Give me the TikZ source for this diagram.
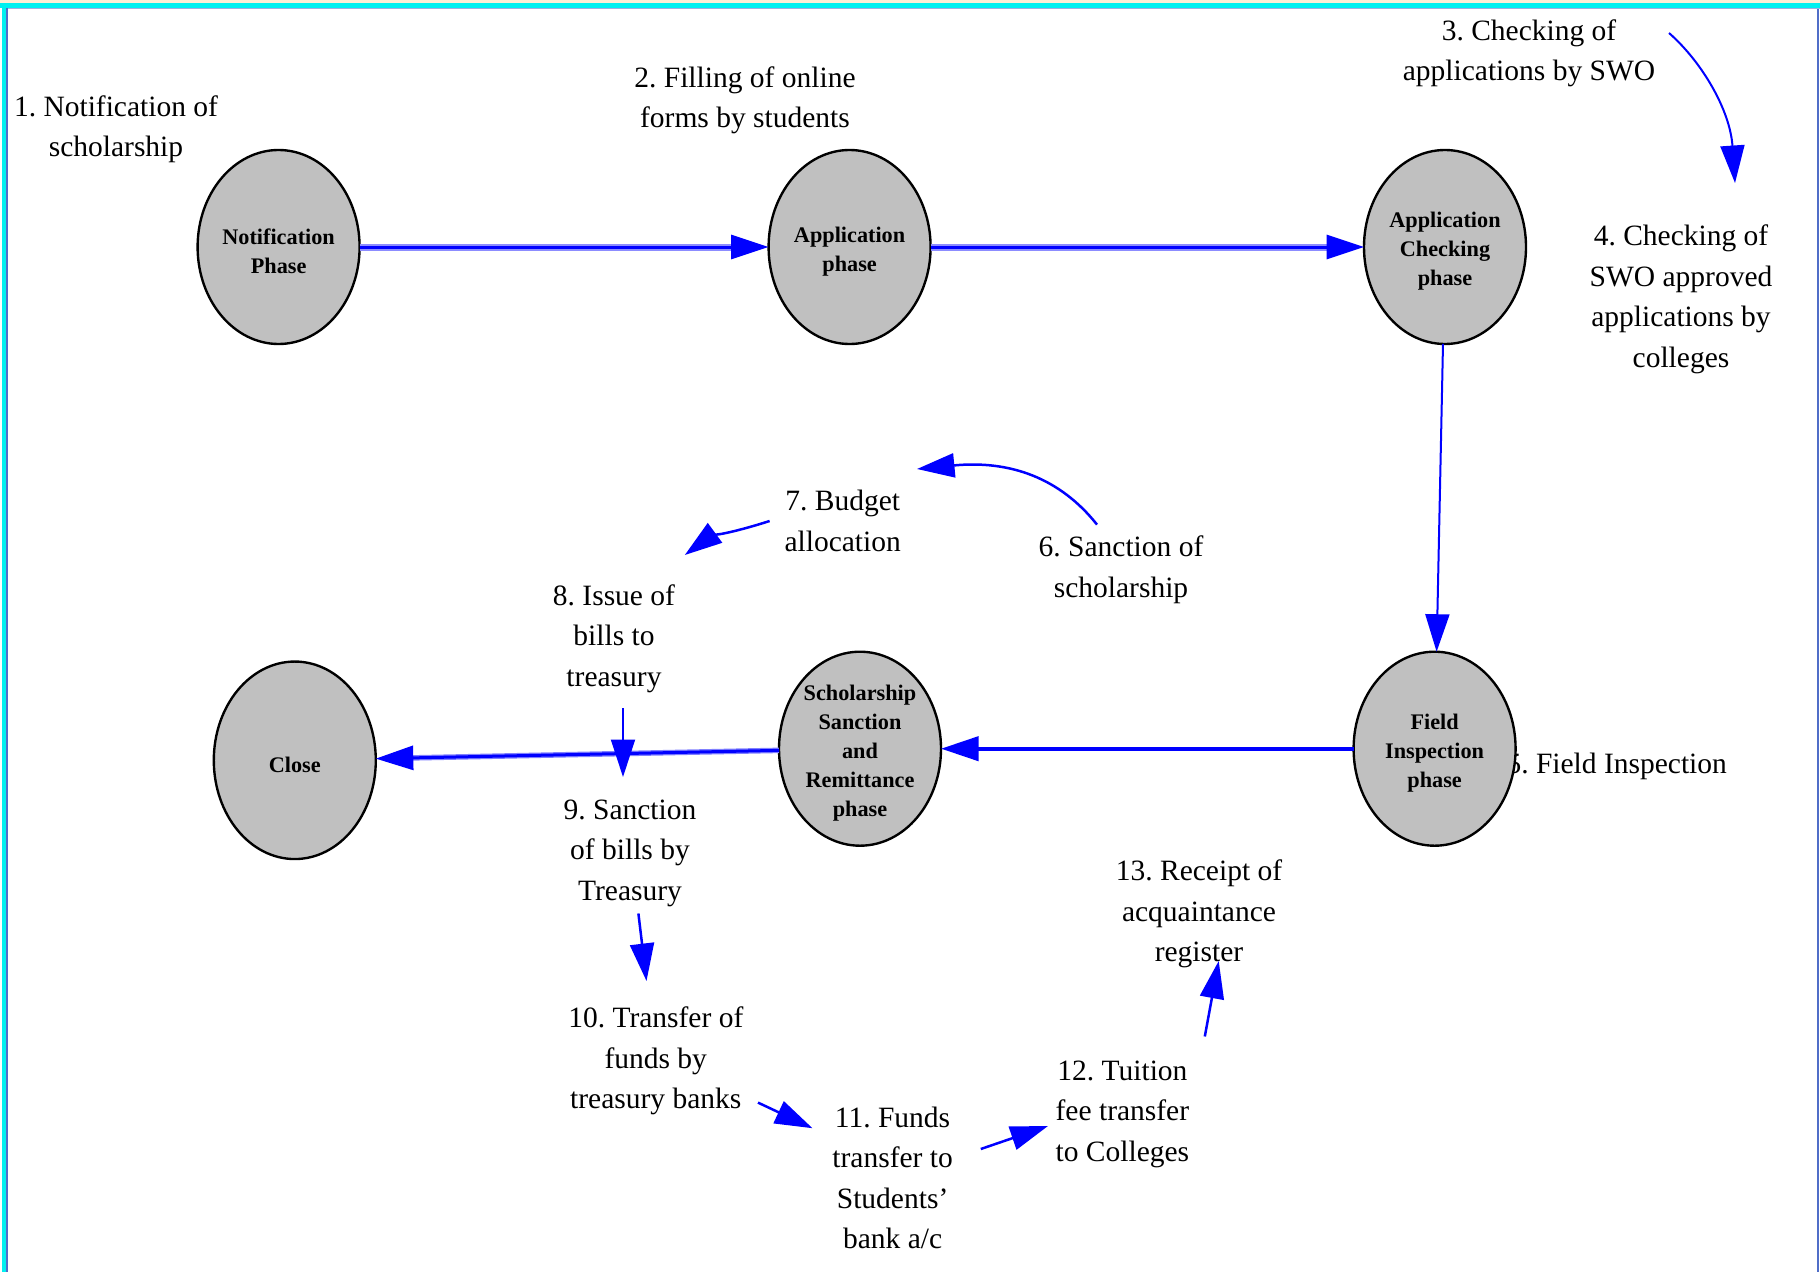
\documentclass[tikz,border=0pt]{standalone}
\usepackage{fontspec}
\setmainfont{Liberation Serif}
\usetikzlibrary{arrows.meta,shapes.geometric}
\frenchspacing

\definecolor{framecyan}{RGB}{0,240,240}
\definecolor{framebeige}{RGB}{252,238,214}
\definecolor{frameline}{RGB}{80,110,200}
\definecolor{phasegray}{RGB}{192,192,192}
\definecolor{flowblue}{RGB}{0,0,255}

\tikzset{
  phase/.style={ellipse, draw=black, line width=0.95pt, fill=phasegray,
    minimum width=64.8pt, minimum height=77.6pt, inner sep=0pt, outer sep=0pt},
  phasetext/.style={align=center, inner sep=0pt, yshift=-1.8pt,
    font=\fontsize{8.9}{11.6}\selectfont\bfseries},
  steptext/.style={align=center, inner sep=0pt,
    font=\fontsize{11.8}{16.2}\selectfont},
  head/.style={-{Triangle[length=15pt,width=9.6pt]}},
  flowhalo/.style={draw=flowblue!45, line width=2.8pt, shorten >=12pt},
  flowcore/.style={draw=flowblue, line width=1.2pt, head},
  flowsolid/.style={draw=flowblue, line width=1.6pt, head},
  flowthin/.style={draw=flowblue, line width=0.8pt, head},
  flowstep/.style={draw=flowblue, line width=1pt, head},
}

\begin{document}
\begin{tikzpicture}[x=0.4pt,y=-0.4pt]
  \useasboundingbox (0,0) rectangle (1820,1272);
  \fill[white] (0,0) rectangle (1820,1272);

  % page frame
  \fill[framebeige] (0,0) rectangle (1820,3);
  \fill[framecyan] (0,3) rectangle (1820,8);
  \fill[framecyan] (2,3) rectangle (6,1272);
  \fill[frameline] (6,8) rectangle (8,1272);
  \fill[frameline!55] (8,8) rectangle (1820,9.5);
  \fill[frameline] (1817,9) rectangle (1819,1272);

  % step descriptions
  \node[steptext] (s1)  at (116,129.5)   {1. Notification of\\scholarship};
  \node[steptext] (s2)  at (745,100.5)   {2. Filling of online\\forms by students};
  \node[steptext] (s3)  at (1529,53.5)   {3. Checking of\\applications by SWO};
  \node[steptext] (s4)  at (1681,299.5)  {4. Checking of\\SWO approved\\applications by\\colleges};
  \node[steptext, anchor=west] (s5) at (1506,766) {5. Field Inspection};
  \node[steptext] (s6)  at (1121,569.5)  {6. Sanction of\\scholarship};
  \node[steptext] (s7)  at (842.7,521)   {7. Budget\\allocation};
  \node[steptext] (s8)  at (614,638.5)   {8. Issue of\\bills to\\treasury};
  \node[steptext] (s9)  at (630,853)     {9. Sanction\\of bills by\\Treasury};
  \node[steptext] (s10) at (655.8,1061)  {10. Transfer of\\funds by\\treasury banks};
  \node[steptext] (s11) at (892.6,1178)  {11. Funds\\transfer to\\Students'\\bank a/c};
  \node[steptext] (s12) at (1122.4,1114) {12. Tuition\\fee transfer\\to Colleges};
  \node[steptext] (s13) at (1199,914)    {13. Receipt of\\acquaintance\\register};

  % phases
  \node[phase, label={[phasetext]center:{Notification\\Phase}}] (notif) at (278.6,247) {};
  \node[phase, label={[phasetext]center:{Application\\phase}}] (app) at (849.6,247) {};
  \node[phase, label={[phasetext]center:{Application\\Checking\\phase}}] (check) at (1445,247) {};
  \node[phase, label={[phasetext]center:{Field\\Inspection\\phase}}] (field) at (1434.6,748.7) {};
  \node[phase, label={[phasetext]center:{Scholarship\\Sanction\\and\\Remittance\\phase}}] (sanc) at (860,748.7) {};
  \node[phase, minimum height=79pt, label={[phasetext]center:{Close}}] (close) at (294.8,760.3) {};

  % phase transitions
  \draw[flowhalo] (notif) -- (app);
  \draw[flowcore] (notif) -- (app);
  \draw[flowhalo] (app) -- (check);
  \draw[flowcore] (app) -- (check);
  \draw[flowthin] (check) -- (field);
  \draw[flowsolid] (field) -- (sanc);
  \draw[draw=flowblue!50, line width=2.2pt, shorten >=12pt] (sanc) -- (close);
  \draw[draw=flowblue, line width=1.2pt, head] (sanc) -- (close);

  % step-to-step arrows
  \coordinate (a3) at (1669,33);      \coordinate (b4) at (1735,183);
  \coordinate (a6) at (1097,524.6);   \coordinate (b7) at (917,469);
  \coordinate (a7) at (769.6,521);    \coordinate (b8) at (684.8,555);
  \coordinate (a8) at (623,708);      \coordinate (b9) at (623,777);
  \coordinate (a9) at (638.4,913.5);  \coordinate (b10) at (646.5,981);
  \coordinate (a10) at (758,1102.6);  \coordinate (b11) at (812.5,1128.2);
  \coordinate (a11) at (980.8,1149);  \coordinate (b12) at (1048,1126);
  \coordinate (a12) at (1204.8,1036.5); \coordinate (b13) at (1218.7,961);

  \draw[flowthin] (a3) .. controls (1702,62) and (1730,110) .. (b4);
  \draw[flowstep] (a6) .. controls (1060,478) and (1010,460) .. (b7);
  \draw[flowstep] (a7) .. controls (742,530) and (708,538) .. (b8);
  \draw[flowthin] (a8) -- (b9);
  \draw[flowstep] (a9) -- (b10);
  \draw[flowstep] (a10) -- (b11);
  \draw[flowstep] (a11) -- (b12);
  \draw[flowstep] (a12) -- (b13);
\end{tikzpicture}
\end{document}
